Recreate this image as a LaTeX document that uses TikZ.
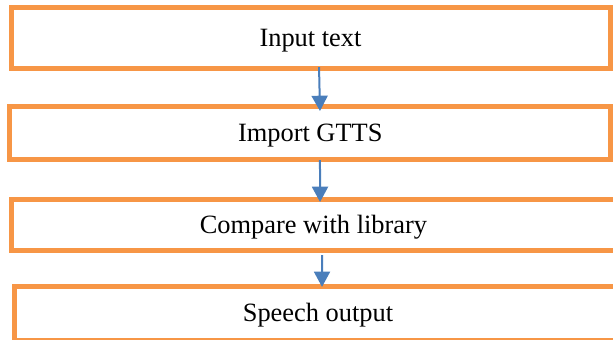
\documentclass[tikz,border=0pt]{standalone}
\usepackage{fontspec}
\setmainfont{Liberation Serif}
\usepackage{xcolor}
\usepackage{tikz}
\usetikzlibrary{arrows.meta}

\definecolor{boxorange}{HTML}{F79646}
\definecolor{arrowblue}{HTML}{4A7EBB}

\begin{document}
\begin{tikzpicture}[x=0.75pt,y=-0.75pt,
		stage/.style={draw=boxorange,line width=3.75pt,rectangle,outer sep=0pt,
			inner sep=0pt,font=\fontsize{19.8}{24}\selectfont,
			text height=13.1pt,text depth=0pt}]
		\useasboundingbox (0,0) rectangle (613,339);
		\node[stage,minimum width=449.25pt,minimum height=45.75pt] (A) at (310.5,38) {Input text};
		\node[stage,minimum width=451.1pt,minimum height=39.75pt] (B) at (310.25,133) {Import GTTS};
		\node[stage,minimum width=453pt,minimum height=38.25pt] (C) at (313.5,225) {Compare with library};
		\node[stage,minimum width=455.25pt,minimum height=40.5pt] (D) at (318,313) {Speech output};
		%
		\path[every edge/.style={draw=arrowblue,fill=arrowblue,line width=1.5pt,
			-{Triangle[length=11.5pt,width=12pt]}}]
		([xshift=6.4pt,yshift=1pt]A.south) edge ([xshift=7.3pt,yshift=-3.4pt]B.north)
		([xshift=7.3pt,yshift=-0.4pt]B.south) edge ([xshift=4.9pt,yshift=-1.9pt]C.north)
		([xshift=6.4pt,yshift=-3.4pt]C.south) edge ([xshift=3pt,yshift=-0.7pt]D.north);
	\end{tikzpicture}
\end{document}
